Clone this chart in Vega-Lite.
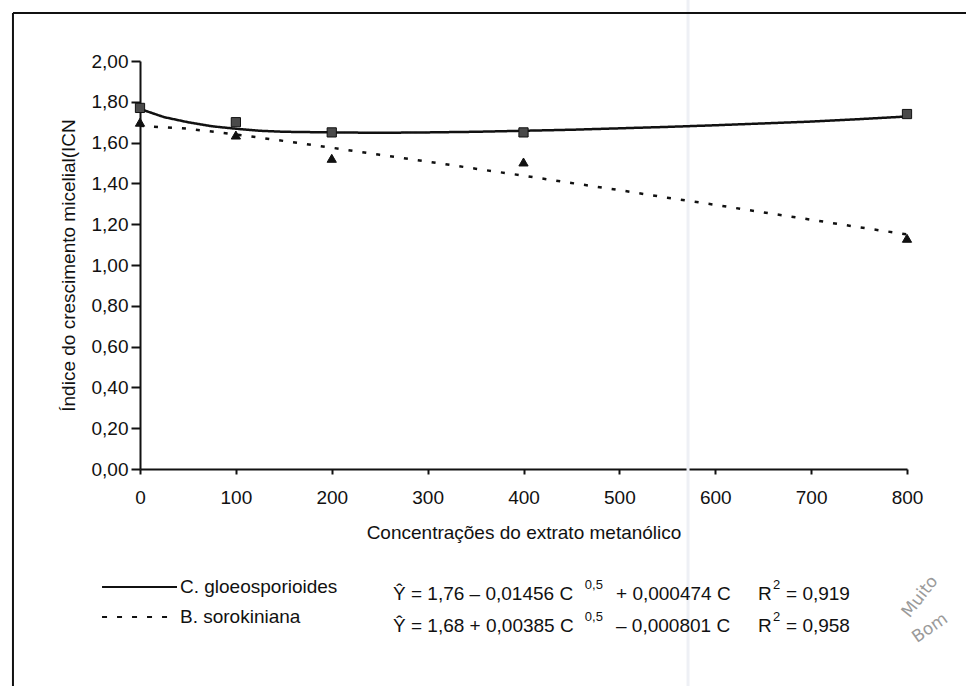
{
  "$schema": "https://vega.github.io/schema/vega-lite/v6.json",
  "width": 767,
  "height": 408,
  "autosize": {"type": "none"},
  "padding": {"left": 140, "top": 61, "right": 59, "bottom": 217},
  "background": "white",
  "config": {"view": {"stroke": null}, "font": "Liberation Sans"},
  "datasets": {
    "obs": [
      {"conc": 0, "icm": 1.77, "especie": "C. gloeosporioides"},
      {"conc": 100, "icm": 1.70, "especie": "C. gloeosporioides"},
      {"conc": 200, "icm": 1.65, "especie": "C. gloeosporioides"},
      {"conc": 400, "icm": 1.65, "especie": "C. gloeosporioides"},
      {"conc": 800, "icm": 1.74, "especie": "C. gloeosporioides"},
      {"conc": 0, "icm": 1.70, "especie": "B. sorokiniana"},
      {"conc": 100, "icm": 1.637, "especie": "B. sorokiniana"},
      {"conc": 200, "icm": 1.523, "especie": "B. sorokiniana"},
      {"conc": 400, "icm": 1.505, "especie": "B. sorokiniana"},
      {"conc": 800, "icm": 1.131, "especie": "B. sorokiniana"}
    ],
    "fit": [
      {"conc": 0, "icm": 1.765, "especie": "C. gloeosporioides"},
      {"conc": 25, "icm": 1.725, "especie": "C. gloeosporioides"},
      {"conc": 50, "icm": 1.70, "especie": "C. gloeosporioides"},
      {"conc": 75, "icm": 1.68, "especie": "C. gloeosporioides"},
      {"conc": 100, "icm": 1.668, "especie": "C. gloeosporioides"},
      {"conc": 125, "icm": 1.658, "especie": "C. gloeosporioides"},
      {"conc": 150, "icm": 1.653, "especie": "C. gloeosporioides"},
      {"conc": 200, "icm": 1.65, "especie": "C. gloeosporioides"},
      {"conc": 250, "icm": 1.648, "especie": "C. gloeosporioides"},
      {"conc": 300, "icm": 1.65, "especie": "C. gloeosporioides"},
      {"conc": 350, "icm": 1.653, "especie": "C. gloeosporioides"},
      {"conc": 400, "icm": 1.658, "especie": "C. gloeosporioides"},
      {"conc": 450, "icm": 1.663, "especie": "C. gloeosporioides"},
      {"conc": 500, "icm": 1.67, "especie": "C. gloeosporioides"},
      {"conc": 550, "icm": 1.677, "especie": "C. gloeosporioides"},
      {"conc": 600, "icm": 1.685, "especie": "C. gloeosporioides"},
      {"conc": 650, "icm": 1.694, "especie": "C. gloeosporioides"},
      {"conc": 700, "icm": 1.703, "especie": "C. gloeosporioides"},
      {"conc": 750, "icm": 1.715, "especie": "C. gloeosporioides"},
      {"conc": 800, "icm": 1.728, "especie": "C. gloeosporioides"},
      {"conc": 0, "icm": 1.682, "especie": "B. sorokiniana"},
      {"conc": 50, "icm": 1.668, "especie": "B. sorokiniana"},
      {"conc": 100, "icm": 1.64, "especie": "B. sorokiniana"},
      {"conc": 150, "icm": 1.608, "especie": "B. sorokiniana"},
      {"conc": 200, "icm": 1.575, "especie": "B. sorokiniana"},
      {"conc": 250, "icm": 1.54, "especie": "B. sorokiniana"},
      {"conc": 300, "icm": 1.507, "especie": "B. sorokiniana"},
      {"conc": 350, "icm": 1.472, "especie": "B. sorokiniana"},
      {"conc": 400, "icm": 1.438, "especie": "B. sorokiniana"},
      {"conc": 450, "icm": 1.402, "especie": "B. sorokiniana"},
      {"conc": 500, "icm": 1.367, "especie": "B. sorokiniana"},
      {"conc": 550, "icm": 1.33, "especie": "B. sorokiniana"},
      {"conc": 600, "icm": 1.295, "especie": "B. sorokiniana"},
      {"conc": 650, "icm": 1.258, "especie": "B. sorokiniana"},
      {"conc": 700, "icm": 1.222, "especie": "B. sorokiniana"},
      {"conc": 750, "icm": 1.185, "especie": "B. sorokiniana"},
      {"conc": 800, "icm": 1.15, "especie": "B. sorokiniana"}
    ]
  },
  "layer": [
    {
      "data": {"values": [{}]},
      "mark": {"type": "rule", "color": "#eef0f5", "strokeWidth": 3},
      "encoding": {"x": {"datum": 571.6, "type": "quantitative"}, "y": {"datum": 2.3, "type": "quantitative"}, "y2": {"datum": -1.1}}
    },
    {
      "data": {"values": [{}]},
      "mark": {"type": "rule", "color": "#111", "strokeWidth": 2},
      "encoding": {"x": {"datum": -132.5, "type": "quantitative"}, "x2": {"datum": 870}, "y": {"datum": 2.235, "type": "quantitative"}}
    },
    {
      "data": {"values": [{}]},
      "mark": {"type": "rule", "color": "#111", "strokeWidth": 2},
      "encoding": {"x": {"datum": -132.5, "type": "quantitative"}, "y": {"datum": 2.235, "type": "quantitative"}, "y2": {"datum": -1.1}}
    },
    {
      "data": {"name": "fit"},
      "mark": {"type": "line", "color": "#111", "strokeWidth": 2.5},
      "encoding": {
        "x": {
          "field": "conc", "type": "quantitative",
          "scale": {"domain": [0, 800], "nice": false, "zero": false},
          "axis": {
            "values": [0, 100, 200, 300, 400, 500, 600, 700, 800],
            "title": "Concentrações do extrato metanólico",
            "grid": false, "domainColor": "#111", "domainWidth": 2,
            "tickColor": "#111", "tickWidth": 2, "tickSize": 5,
            "labelFont": "Liberation Sans", "labelFontSize": 19, "labelColor": "#111",
            "labelPadding": 14, "labelFlush": false, "labelOverlap": false,
            "titleFont": "Liberation Sans", "titleFontSize": 19, "titleFontWeight": "normal",
            "titleColor": "#111", "titlePadding": 16
          }
        },
        "y": {
          "field": "icm", "type": "quantitative",
          "scale": {"domain": [0, 2], "nice": false, "zero": false},
          "axis": {
            "values": [0, 0.2, 0.4, 0.6, 0.8, 1, 1.2, 1.4, 1.6, 1.8, 2],
            "labelExpr": "replace(format(datum.value, '.2f'), '.', ',')",
            "title": "Índice do crescimento micelial(ICN",
            "grid": false, "domainColor": "#111", "domainWidth": 2,
            "tickColor": "#111", "tickWidth": 2, "tickSize": 9,
            "labelFont": "Liberation Sans", "labelFontSize": 19, "labelColor": "#111",
            "labelPadding": 3, "labelFlush": false, "labelOverlap": false,
            "titleFont": "Liberation Sans", "titleFontSize": 19, "titleFontWeight": "normal",
            "titleColor": "#111", "titlePadding": 13
          }
        },
        "detail": {"field": "especie"},
        "strokeDash": {
          "field": "especie", "type": "nominal",
          "scale": {"domain": ["C. gloeosporioides", "B. sorokiniana"], "range": [[1, 0], [4, 10]]},
          "legend": null
        }
      }
    },
    {
      "data": {"name": "obs"},
      "mark": {"type": "point", "filled": true, "opacity": 1, "size": 85, "stroke": "#111", "strokeWidth": 1},
      "encoding": {
        "x": {"field": "conc", "type": "quantitative"},
        "y": {"field": "icm", "type": "quantitative"},
        "shape": {
          "field": "especie", "type": "nominal",
          "scale": {"domain": ["C. gloeosporioides", "B. sorokiniana"], "range": ["square", "triangle-up"]},
          "legend": null
        },
        "color": {
          "field": "especie", "type": "nominal",
          "scale": {"domain": ["C. gloeosporioides", "B. sorokiniana"], "range": ["#4a4a4a", "#111111"]},
          "legend": null
        }
      }
    },
    {
      "data": {"values": [{}]},
      "mark": {"type": "rule", "color": "#111", "strokeWidth": 2},
      "encoding": {"x": {"datum": -39.6, "type": "quantitative"}, "x2": {"datum": 38.6}, "y": {"datum": -0.578, "type": "quantitative"}}
    },
    {
      "data": {"values": [{}]},
      "mark": {"type": "rule", "color": "#111", "strokeWidth": 2, "strokeDash": [5, 10]},
      "encoding": {"x": {"datum": -39.6, "type": "quantitative"}, "x2": {"datum": 38.6}, "y": {"datum": -0.725, "type": "quantitative"}}
    },
    {
      "data": {"values": [{}]},
      "mark": {"type": "text", "text": "C. gloeosporioides", "align": "left", "baseline": "middle", "fontSize": 19, "color": "#111"},
      "encoding": {"x": {"datum": 41.7, "type": "quantitative"}, "y": {"datum": -0.578, "type": "quantitative"}}
    },
    {
      "data": {"values": [{}]},
      "mark": {"type": "text", "text": "B. sorokiniana", "align": "left", "baseline": "middle", "fontSize": 19, "color": "#111"},
      "encoding": {"x": {"datum": 41.7, "type": "quantitative"}, "y": {"datum": -0.725, "type": "quantitative"}}
    },
    {
      "data": {"values": [{}]},
      "mark": {"type": "text", "text": "Ŷ =  1,76 – 0,01456 C", "align": "left", "baseline": "middle", "fontSize": 19, "color": "#111"},
      "encoding": {"x": {"datum": 263.9, "type": "quantitative"}, "y": {"datum": -0.613, "type": "quantitative"}}
    },
    {
      "data": {"values": [{}]},
      "mark": {"type": "text", "text": "0,5", "align": "left", "baseline": "middle", "fontSize": 13, "color": "#111"},
      "encoding": {"x": {"datum": 464, "type": "quantitative"}, "y": {"datum": -0.569, "type": "quantitative"}}
    },
    {
      "data": {"values": [{}]},
      "mark": {"type": "text", "text": "+ 0,000474 C", "align": "left", "baseline": "middle", "fontSize": 19, "color": "#111"},
      "encoding": {"x": {"datum": 496.5, "type": "quantitative"}, "y": {"datum": -0.613, "type": "quantitative"}}
    },
    {
      "data": {"values": [{}]},
      "mark": {"type": "text", "text": "R", "align": "left", "baseline": "middle", "fontSize": 19, "color": "#111"},
      "encoding": {"x": {"datum": 644.6, "type": "quantitative"}, "y": {"datum": -0.613, "type": "quantitative"}}
    },
    {
      "data": {"values": [{}]},
      "mark": {"type": "text", "text": "2", "align": "left", "baseline": "middle", "fontSize": 13, "color": "#111"},
      "encoding": {"x": {"datum": 660.2, "type": "quantitative"}, "y": {"datum": -0.569, "type": "quantitative"}}
    },
    {
      "data": {"values": [{}]},
      "mark": {"type": "text", "text": "= 0,919", "align": "left", "baseline": "middle", "fontSize": 19, "color": "#111"},
      "encoding": {"x": {"datum": 673.8, "type": "quantitative"}, "y": {"datum": -0.613, "type": "quantitative"}}
    },
    {
      "data": {"values": [{}]},
      "mark": {"type": "text", "text": "Ŷ =  1,68 + 0,00385 C", "align": "left", "baseline": "middle", "fontSize": 19, "color": "#111"},
      "encoding": {"x": {"datum": 263.9, "type": "quantitative"}, "y": {"datum": -0.77, "type": "quantitative"}}
    },
    {
      "data": {"values": [{}]},
      "mark": {"type": "text", "text": "0,5", "align": "left", "baseline": "middle", "fontSize": 13, "color": "#111"},
      "encoding": {"x": {"datum": 464, "type": "quantitative"}, "y": {"datum": -0.725, "type": "quantitative"}}
    },
    {
      "data": {"values": [{}]},
      "mark": {"type": "text", "text": "– 0,000801 C", "align": "left", "baseline": "middle", "fontSize": 19, "color": "#111"},
      "encoding": {"x": {"datum": 496.5, "type": "quantitative"}, "y": {"datum": -0.77, "type": "quantitative"}}
    },
    {
      "data": {"values": [{}]},
      "mark": {"type": "text", "text": "R", "align": "left", "baseline": "middle", "fontSize": 19, "color": "#111"},
      "encoding": {"x": {"datum": 644.6, "type": "quantitative"}, "y": {"datum": -0.77, "type": "quantitative"}}
    },
    {
      "data": {"values": [{}]},
      "mark": {"type": "text", "text": "2", "align": "left", "baseline": "middle", "fontSize": 13, "color": "#111"},
      "encoding": {"x": {"datum": 660.2, "type": "quantitative"}, "y": {"datum": -0.725, "type": "quantitative"}}
    },
    {
      "data": {"values": [{}]},
      "mark": {"type": "text", "text": "= 0,958", "align": "left", "baseline": "middle", "fontSize": 19, "color": "#111"},
      "encoding": {"x": {"datum": 673.8, "type": "quantitative"}, "y": {"datum": -0.77, "type": "quantitative"}}
    },
    {
      "data": {"values": [{}]},
      "mark": {"type": "text", "text": "Muito", "align": "center", "baseline": "middle", "fontSize": 17, "angle": 308, "color": "#9a9a9a", "font": "DejaVu Sans"},
      "encoding": {"x": {"datum": 813.6, "type": "quantitative"}, "y": {"datum": -0.627, "type": "quantitative"}}
    },
    {
      "data": {"values": [{}]},
      "mark": {"type": "text", "text": "Bom", "align": "center", "baseline": "middle", "fontSize": 17, "angle": 325, "color": "#9a9a9a", "font": "DejaVu Sans"},
      "encoding": {"x": {"datum": 824, "type": "quantitative"}, "y": {"datum": -0.78, "type": "quantitative"}}
    }
  ]
}
